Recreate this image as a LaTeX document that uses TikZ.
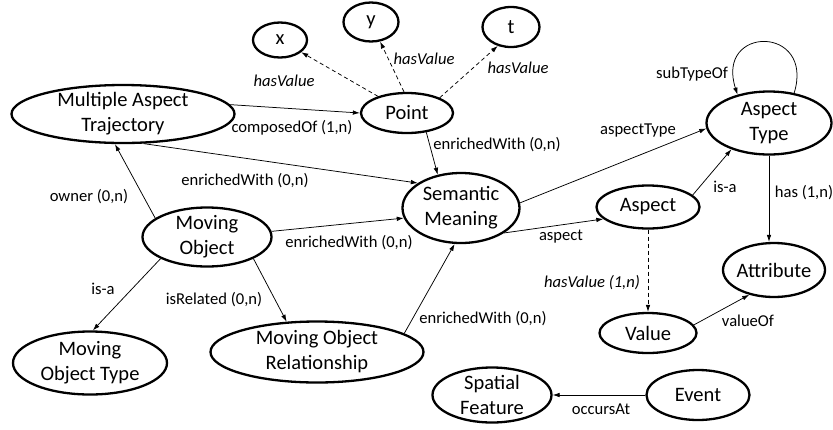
\documentclass[tikz,border=0pt]{standalone}
\usepackage{fontspec}
\setmainfont{Carlito}
\usetikzlibrary{shapes.geometric,arrows.meta}
\tikzset{
  ent/.style={draw, ellipse, line width=2.3pt, inner sep=0pt},
  etext/.style={font=\fontsize{20.5}{25}\selectfont, align=center, inner sep=0pt},
  rel/.style={-{Latex[length=7pt,width=4.6pt]}, line width=0.75pt},
  dsh/.style={rel, dash pattern=on 4pt off 3pt},
  lab/.style={font=\fontsize{16.6}{20}\selectfont, inner sep=0pt},
  ilab/.style={lab, font=\fontsize{16.6}{20}\selectfont\itshape},
}
\begin{document}
\begin{tikzpicture}[x=1pt,y=-1pt]
\useasboundingbox (0,0) rectangle (833,429);

% entities
\node[ent, minimum width=54pt, minimum height=35pt, label={[etext,name=x-t]center:x}] (x) at (280,40) {};
\node[ent, minimum width=55pt, minimum height=39pt, label={[etext,name=y-t]center:y}] (y) at (371,22) {};
\node[ent, minimum width=57pt, minimum height=40pt, label={[etext,name=t-t]center:t}] (t) at (511,27) {};
\node[ent, minimum width=92pt, minimum height=40pt, label={[etext,name=pt-t]center:Point}] (pt) at (407,113) {};
\node[ent, minimum width=223pt, minimum height=58pt, label={[etext,name=mat-t]center:{Multiple Aspect\\Trajectory}}] (mat) at (123,114) {};
\node[ent, minimum width=129pt, minimum height=59pt, label={[etext,name=mo-t]center:{Moving\\Object}}] (mo) at (207,237) {};
\node[ent, minimum width=117pt, minimum height=70pt, label={[etext,name=sm-t]center:{Semantic\\Meaning}}] (sm) at (461,208) {};
\node[ent, minimum width=154pt, minimum height=63pt, label={[etext,name=mot-t]center:{Moving\\Object Type}}] (mot) at (90,363) {};
\node[ent, minimum width=213pt, minimum height=61pt, label={[etext,name=mor-t]center:{Moving Object\\Relationship}}] (mor) at (317,352) {};
\node[ent, minimum width=125pt, minimum height=63pt, label={[etext,name=at-t]center:{Aspect\\Type}}] (at) at (769,123) {};
\node[ent, minimum width=103pt, minimum height=43pt, label={[etext,name=asp-t]center:Aspect}] (asp) at (648,207) {};
\node[ent, minimum width=102pt, minimum height=54pt, label={[etext,name=att-t]center:Attribute}] (att) at (774,270) {};
\node[ent, minimum width=97pt, minimum height=40pt, label={[etext,name=val-t]center:Value}] (val) at (648,333) {};
\node[ent, minimum width=103pt, minimum height=50pt, label={[etext,name=ev-t]center:Event}] (ev) at (698,395) {};
\node[ent, minimum width=119pt, minimum height=55pt, label={[etext,name=sf-t]center:{Spatial\\Feature}}] (sf) at (492,395) {};

% connectors
\draw[dsh] (pt) -- (x);
\draw[dsh] ([xshift=-3pt]pt.north) -- (y.-65);
\draw[dsh] (pt.25) -- (t.-125);
\draw[rel] (mat.5) -- (pt.west);
\draw[rel] (mat.-55) -- (sm.150);
\draw[rel] (pt.-45) -- (sm.125);
\draw[rel] (mo.160) -- (mat.-105);
\draw[rel] (mo.5) -- (sm.190);
\draw[rel] (mo.-155) -- (mot.85);
\draw[rel] (mo.-25) -- (mor.135);
\draw[rel] (mor.12) -- (sm.-100);
\draw[rel] (sm.5) -- (at.-175);
\draw[rel] (sm.-30) -- (asp.-165);
\draw[rel] (asp.15) -- (at.-145);
\draw[rel] (at.south) -- (at.south |- att.north);
\draw[dsh] (asp.south) -- (val.north);
\draw[rel] (val.10) -- (att.-135);
\draw[rel] (ev.west) -- (sf.east);
\draw[rel] (at.50) .. controls (815,25) and (715,25) .. (at.138);

% labels
\node[ilab] (l-x) at (284,81) {hasValue};
\node[ilab] (l-y) at (424,59) {hasValue};
\node[ilab] (l-t) at (518,68) {hasValue};
\node[lab] (l-comp) at (292,128) {composedOf (1,n)};
\node[lab] (l-ew1) at (245,181) {enrichedWith (0,n)};
\node[lab] (l-own) at (89,197) {owner (0,n)};
\node[lab] (l-ew2) at (497,145) {enrichedWith (0,n)};
\node[lab] (l-ew3) at (349,243) {enrichedWith (0,n)};
\node[lab] (l-isa1) at (103,289) {is-a};
\node[lab] (l-isrel) at (214,300) {isRelated (0,n)};
\node[lab] (l-ew4) at (483,319) {enrichedWith (0,n)};
\node[lab] (l-asp) at (561,237) {aspect};
\node[lab] (l-at) at (638,131) {aspectType};
\node[lab] (l-isa2) at (725,187) {is-a};
\node[lab] (l-sub) at (692,74) {subTypeOf};
\node[lab] (l-has) at (804,193) {has (1,n)};
\node[ilab] (l-hv) at (592,283) {hasValue (1,n)};
\node[lab] (l-vo) at (748,321) {valueOf};
\node[lab] (l-occ) at (601,409) {occursAt};
\end{tikzpicture}
\end{document}
